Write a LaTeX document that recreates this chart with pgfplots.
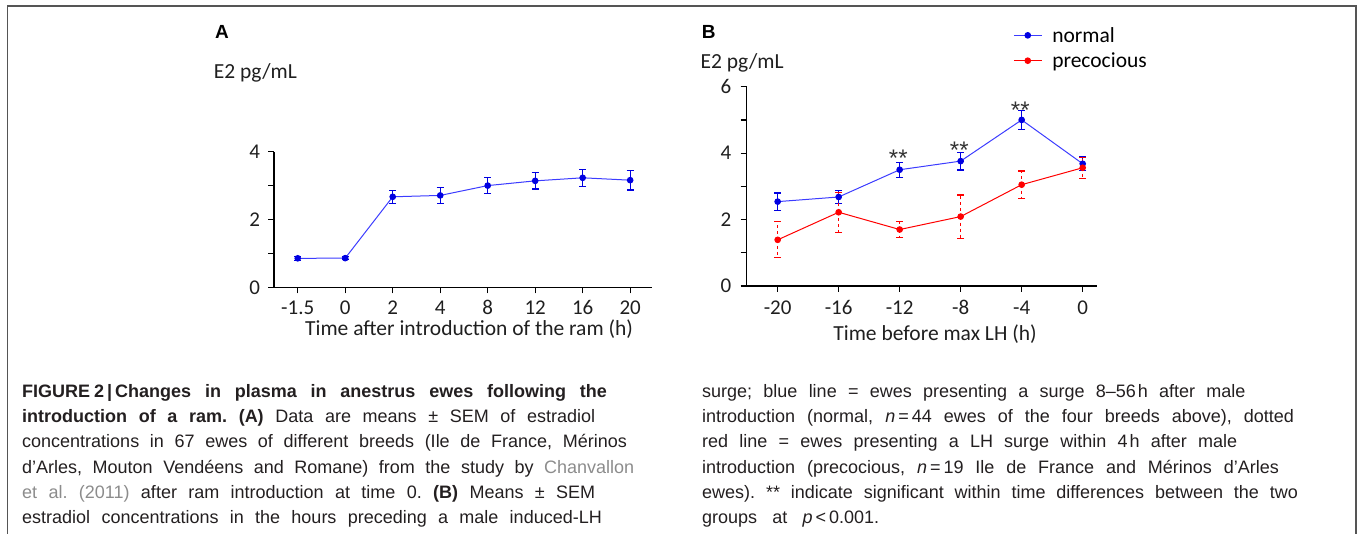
\documentclass[border=0pt]{standalone}
\usepackage{fontspec}
\setmainfont{Carlito}
\newfontfamily\capfont{Liberation Sans}
\usepackage{pgfplots}
\pgfplotsset{compat=1.18}

\definecolor{captext}{RGB}{35,31,32}
\definecolor{capgray}{RGB}{140,140,140}
\definecolor{framec}{RGB}{85,85,85}
\definecolor{bline}{RGB}{60,60,255}
\definecolor{bmark}{RGB}{0,0,225}
\definecolor{rline}{RGB}{255,0,0}

\pgfplotsset{
  panel/.style={
    scale only axis,
    axis lines*=left,
    axis line style={line width=1.2pt,-},
    tick style={black,line width=1.2pt},
    tick align=outside,
    major tick length=6pt, minor tick length=6pt,
    ticklabel style={font=\fontsize{21}{21}\selectfont, text=black!88},
    /pgf/number format/assume math mode=true,
    label style={font=\fontsize{21.5}{21.5}\selectfont, text=black!88},
    ylabel style={rotate=-90, anchor=base west, inner sep=0pt},
    clip=false,
  },
  ebars/.style={
    error bars/.cd, y dir=both, y explicit,
    error bar style={line width=1.2pt, #1},
    error mark options={rotate=90, mark size=3.5pt, line width=1.2pt, #1, solid},
  },
}
\tikzset{stars/.style={font=\capfont\fontsize{24}{24}\selectfont, text=black!80, inner sep=0pt}}

\newcommand{\capline}[4]{%
  \node[anchor=base west, inner sep=0pt, text=captext,
        font=\capfont\fontsize{18}{18}\selectfont\frenchspacing] at (#1,#2)
        {\makebox[#3pt][s]{#4}};}

\begin{document}
\begin{tikzpicture}[x=1pt,y=1pt]
\useasboundingbox (0,0) rectangle (1357,-534);
\draw[framec, line width=1.6pt] (7.3,-534) -- (7.3,-6) -- (1355.7,-6) -- (1355.7,-534);

% panel A
\begin{axis}[panel,
  at={(274pt,-287.3pt)}, anchor=south west,
  width=378pt, height=135.6pt,
  xmin=-0.5, xmax=7.46, ymin=0, ymax=4,
  xtick={0,...,7},
  xticklabels={-1.5,0,2,4,8,12,16,20},
  xticklabel style={anchor=base, yshift=-21pt},
  ytick={0,2,4}, minor ytick={1,3},
  yticklabel style={anchor=east, xshift=-4.5pt},
  xlabel={Time after introduction of the ram (h)},
  xlabel style={at={(axis description cs:0.516,0)}, anchor=base, yshift=-48pt},
  ylabel={E2 pg/mL},
  ylabel style={at={(axis description cs:-0.1595,1.5413)}},
]
\addplot[bline, line width=1pt, mark=*, mark size=2.8pt,
  mark options={bmark, fill=bmark}, ebars={bmark}]
  coordinates {
  (0,0.855) +- (0,0.06)
  (1,0.86)  +- (0,0.05)
  (2,2.67)  +- (0,0.19)
  (3,2.71)  +- (0,0.23)
  (4,3.00)  +- (0,0.23)
  (5,3.14)  +- (0,0.24)
  (6,3.23)  +- (0,0.25)
  (7,3.16)  +- (0,0.29)
  };
\end{axis}

% panel B
\begin{axis}[panel,
  at={(746.7pt,-286pt)}, anchor=south west,
  width=350pt, height=199.3pt,
  xmin=-22.03, xmax=0.92, ymin=0, ymax=6,
  xtick={-20,-16,-12,-8,-4,0},
  xticklabels={-20,-16,-12,-8,-4,0},
  xticklabel style={anchor=base, yshift=-23pt},
  ytick={0,2,4,6}, minor ytick={1,3,5},
  yticklabel style={anchor=east, xshift=-6pt},
  xlabel={Time before max LH (h)},
  xlabel style={at={(axis description cs:0.538,0)}, anchor=base, yshift=-54pt},
  ylabel={E2 pg/mL},
  ylabel style={at={(axis description cs:-0.1323,1.0923)}},
  legend style={draw=none, fill=none, at={(rel axis cs:0.761,1.31)},
    anchor=north west, inner sep=0pt, row sep=5pt, column sep=8pt,
    font=\fontsize{21.5}{21.5}\selectfont,
    nodes={inner sep=2pt}},
  legend cell align=left,
  legend image code/.code={
    \draw[#1, mark repeat=2, mark phase=2] plot coordinates {(0pt,0pt) (14pt,0pt) (28pt,0pt)};},
]
\addplot[bline, line width=1pt, mark=*, mark size=2.8pt,
  mark options={bmark, fill=bmark}, ebars={bmark}]
  coordinates {
  (-20,2.54) +- (0,0.26)
  (-16,2.68) +- (0,0.20)
  (-12,3.50) +- (0,0.23)
  (-8,3.76)  +- (0,0.27)
  (-4,5.00)  +- (0,0.28)
  (0,3.68)   +- (0,0.21)
  };
\addlegendentry{normal}
\addplot[rline, line width=1pt, mark=*, mark size=2.8pt,
  mark options={rline, fill=rline}, ebars={rline, dashed}]
  coordinates {
  (-20,1.39) +- (0,0.54)
  (-16,2.22) +- (0,0.60)
  (-12,1.70) +- (0,0.24)
  (-8,2.09)  +- (0,0.65)
  (-4,3.05)  +- (0,0.41)
  (0,3.56)   +- (0,0.32)
  };
\addlegendentry{precocious}
\node[stars] at (axis cs:-12.09,3.84) {**};
\node[stars] at (axis cs:-8.09,4.09) {**};
\node[stars] at (axis cs:-4.09,5.30) {**};
\end{axis}

\node[anchor=base west, inner sep=0pt, font=\capfont\bfseries\fontsize{19}{19}\selectfont] at (215,-38.3) {A};
\node[anchor=base west, inner sep=0pt, font=\capfont\bfseries\fontsize{19}{19}\selectfont] at (701.7,-38.3) {B};

% caption, left column
\capline{22}{-397.7}{584.7}{\bfseries FIGURE\kern4pt2\kern3pt|\kern3pt Changes in plasma in anestrus ewes following the}
\capline{22}{-422.8}{573}{\textbf{introduction of a ram. (A)} Data are means ± SEM of estradiol}
\capline{22}{-447.9}{604.7}{concentrations in 67 ewes of different breeds (Ile de France, Mérinos}
\capline{22}{-473}{612}{d’Arles, Mouton Vendéens and Romane) from the study by \textcolor{capgray}{Chanvallon}}
\capline{22}{-498.1}{573}{\textcolor{capgray}{et al. (2011)} after ram introduction at time 0. \textbf{(B)} Means ± SEM}
\capline{22}{-523.2}{579.7}{estradiol concentrations in the hours preceding a male induced-LH}
% caption, right column
\capline{702}{-397.7}{543.3}{surge; blue line = ewes presenting a surge 8–56\kern2pt h after male}
\capline{702}{-422.8}{591.7}{introduction (normal, \textit{n}\kern3pt=\kern3pt44 ewes of the four breeds above), dotted}
\capline{702}{-447.9}{535}{red line = ewes presenting a LH surge within 4\kern2pt h after male}
\capline{702}{-473}{576.7}{introduction (precocious, \textit{n}\kern3pt=\kern3pt19 Ile de France and Mérinos d’Arles}
\capline{702}{-498.1}{595.7}{ewes). ** indicate significant within time differences between the two}
\capline{702}{-523.2}{177}{groups at \textit{p}\kern3pt<\kern3pt0.001.}
\end{tikzpicture}
\end{document}
